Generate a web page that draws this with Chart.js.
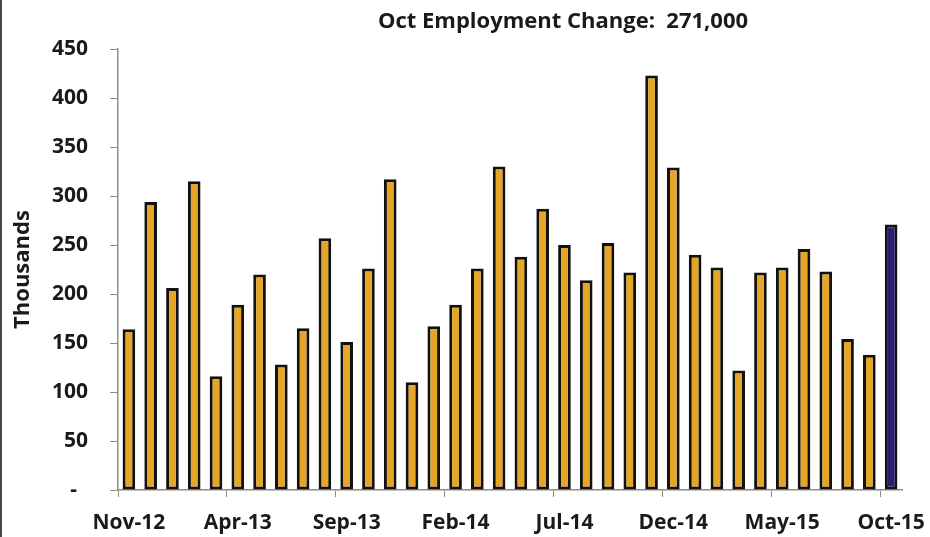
<!DOCTYPE html>
<html>
<head>
<meta charset="utf-8">
<script src="https://cdn.jsdelivr.net/npm/chart.js@4"></script>
<style>
  html, body { margin: 0; padding: 0; background: #fff; }
  #wrap { position: relative; width: 930px; height: 537px; }
  #edge { position: absolute; left: 0; top: 0; width: 2px; height: 537px; background: #4a4a4a; }
</style>
</head>
<body>
<div id="wrap">
  <canvas id="jobsChart" width="930" height="537"></canvas>
  <div id="edge"></div>
</div>
<script>
const months = [
  'Nov-12', 'Dec-12', 'Jan-13', 'Feb-13', 'Mar-13', 'Apr-13', 'May-13', 'Jun-13', 'Jul-13',
  'Aug-13', 'Sep-13', 'Oct-13', 'Nov-13', 'Dec-13', 'Jan-14', 'Feb-14', 'Mar-14', 'Apr-14',
  'May-14', 'Jun-14', 'Jul-14', 'Aug-14', 'Sep-14', 'Oct-14', 'Nov-14', 'Dec-14', 'Jan-15',
  'Feb-15', 'Mar-15', 'Apr-15', 'May-15', 'Jun-15', 'Jul-15', 'Aug-15', 'Sep-15', 'Oct-15'
];
const jobGains = [
  164, 294, 206, 315, 116, 189, 220, 128, 165, 257, 151, 226,
  317, 110, 167, 189, 226, 330, 238, 287, 250, 214, 252, 222,
  423, 329, 240, 227, 122, 222, 227, 246, 223, 154, 138, 271
];
const yTicks = [0, 50, 100, 150, 200, 250, 300, 350, 400, 450];
const headline = 'Oct Employment Change:  271,000';

const gold = '#e4a624';
const navy = '#2e1c78';
const axisGray = '#8c8c8c';
const labelFont = { family: 'Open Sans', size: 21, weight: 'bold' };

// headline sits right of centre, over the plot
const headlinePlugin = {
  id: 'headline',
  afterDraw(chart) {
    const c = chart.ctx;
    c.save();
    c.font = 'bold 22px "Open Sans"';
    c.fillStyle = '#1a1a1a';
    c.textAlign = 'center';
    c.textBaseline = 'middle';
    c.fillText(headline, 563, 22);
    c.restore();
  }
};

const barColors = jobGains.map((v, i) => i === jobGains.length - 1 ? navy : gold);

new Chart(document.getElementById('jobsChart'), {
  type: 'bar',
  data: {
    labels: months,
    datasets: [{
      data: jobGains,
      backgroundColor: barColors,
      borderColor: '#111',
      borderWidth: 3,
      borderSkipped: false,
      categoryPercentage: 1,
      barPercentage: 0.58
    }]
  },
  options: {
    responsive: false,
    animation: false,
    layout: { padding: { top: 49, right: 28, left: 0, bottom: 0 } },
    plugins: {
      legend: { display: false },
      tooltip: { enabled: false }
    },
    scales: {
      x: {
        offset: true,
        afterFit: axis => {
          axis.height = 47;
          axis.paddingLeft = 0;
          axis.paddingRight = 0;
        },
        grid: {
          offset: true,
          drawOnChartArea: false,
          tickLength: 7,
          color: ctx => ctx.index % 5 === 0 ? axisGray : 'rgba(0,0,0,0)'
        },
        border: { color: axisGray, width: 1.5 },
        ticks: {
          autoSkip: false,
          maxRotation: 0,
          padding: 13,
          color: '#1a1a1a',
          font: labelFont,
          callback: (v, i) => i % 5 === 0 ? months[i] : ''
        }
      },
      y: {
        min: yTicks[0],
        max: yTicks[yTicks.length - 1],
        afterBuildTicks: axis => { axis.ticks = yTicks.map(v => ({ value: v })); },
        afterFit: axis => {
          axis.width = 118;
          axis.paddingTop = 0;
          axis.paddingBottom = 0;
        },
        grid: { drawOnChartArea: false, tickLength: 8, color: axisGray },
        border: { color: axisGray, width: 1.5 },
        ticks: {
          padding: 22,
          color: '#1a1a1a',
          font: labelFont,
          callback: v => v === 0 ? '-  ' : v
        },
        title: {
          display: true,
          text: 'Thousands',
          color: '#1a1a1a',
          font: { family: 'Open Sans', size: 22, weight: 'bold' },
          padding: { top: 10, bottom: 0 }
        }
      }
    }
  },
  plugins: [headlinePlugin]
});
</script>
</body>
</html>
